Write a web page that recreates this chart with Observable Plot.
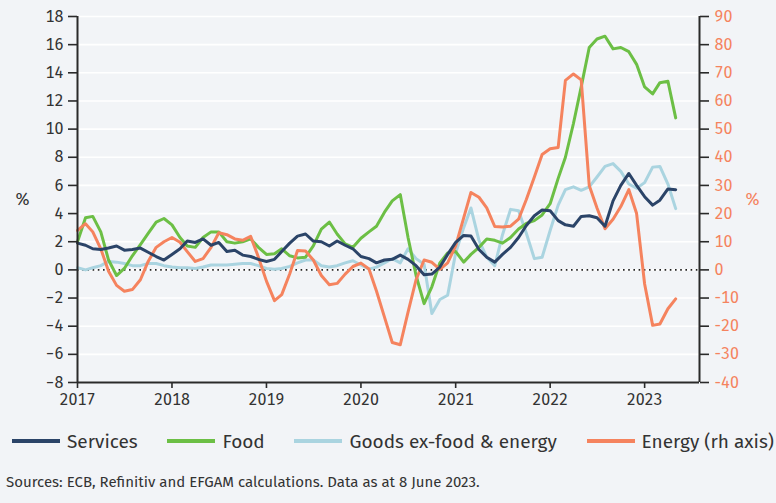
<!DOCTYPE html>
<html>
<head>
<meta charset="utf-8">
<script src="https://cdn.jsdelivr.net/npm/d3@7"></script>
<script src="https://cdn.jsdelivr.net/npm/@observablehq/plot@0.6"></script>
<style>
  html, body { margin: 0; padding: 0; background: #f2f4f7; }
  body { width: 776px; height: 503px; overflow: hidden; font-family: "Fira Sans", Roboto, "Open Sans", sans-serif; color: #333; }
  #chart svg { display: block; }
  .legend { position: absolute; left: 12px; right: 2px; top: 426px; height: 30px; display: flex; justify-content: space-between; align-items: center; font-size: 19px; color: #333; }
  .legend .item { display: flex; align-items: center; white-space: nowrap; }
  .legend .sw { width: 48px; height: 4px; margin-right: 7px; }
  .caption { position: absolute; left: 6px; top: 473px; font-size: 15px; color: #333; white-space: nowrap; }
</style>
</head>
<body>
<div id="chart"></div>
<div class="legend" id="legend"></div>
<div class="caption">Sources: ECB, Refinitiv and EFGAM calculations. Data as at 8 June 2023.</div>
<script>
// Monthly data, January 2017 to May 2023 (% year on year)
const startYear = 2017;
const services = [1.9, 1.75, 1.5, 1.45, 1.55, 1.7, 1.4, 1.45, 1.55, 1.25, 0.95, 0.7,
  1.1, 1.5, 2.05, 1.95, 2.2, 1.75, 1.95, 1.3, 1.4, 1.05, 0.95, 0.75,
  0.6, 0.75, 1.3, 1.9, 2.4, 2.55, 2.05, 2.0, 1.7, 2.05, 1.75, 1.5,
  0.95, 0.8, 0.5, 0.7, 0.75, 1.05, 0.75, 0.3, -0.35, -0.3, 0.2, 1.1,
  1.95, 2.45, 2.4, 1.45, 0.9, 0.55, 1.1, 1.6, 2.3, 3.15, 3.85, 4.25,
  4.2, 3.5, 3.2, 3.1, 3.8, 3.85, 3.7, 3.1, 4.9, 6.0, 6.85, 6.0,
  5.2, 4.6, 4.95, 5.75, 5.7];
const food = [2.0, 3.7, 3.8, 2.7, 0.7, -0.4, 0.1, 1.0, 1.8, 2.6, 3.4, 3.65,
  3.2, 2.3, 1.7, 1.6, 2.3, 2.7, 2.7, 2.0, 1.9, 2.0, 2.2, 1.6,
  1.1, 1.15, 1.5, 1.0, 0.85, 0.9, 1.7, 2.9, 3.4, 2.55, 1.85, 1.6,
  2.25, 2.7, 3.1, 4.1, 4.9, 5.35, 2.3, -0.4, -2.4, -1.2, 0.5, 1.2,
  1.3, 0.55, 1.1, 1.6, 2.2, 2.1, 1.9, 2.3, 2.9, 3.3, 3.5, 3.9,
  4.7, 6.5, 8.0, 10.4, 13.0, 15.8, 16.4, 16.6, 15.7, 15.8, 15.5, 14.6,
  13.0, 12.5, 13.3, 13.4, 10.8];
const goods = [0.15, 0.0, 0.15, 0.3, 0.6, 0.55, 0.45, 0.3, 0.3, 0.45, 0.45, 0.3,
  0.2, 0.15, 0.15, 0.1, 0.2, 0.35, 0.35, 0.35, 0.4, 0.45, 0.45, 0.3,
  0.1, 0.05, 0.1, 0.25, 0.5, 0.7, 0.7, 0.3, 0.2, 0.3, 0.5, 0.65,
  0.35, 0.05, 0.2, 0.5, 0.8, 0.5, 1.5, 0.8, 0.4, -3.1, -2.1, -1.8,
  1.2, 3.0, 4.4, 2.1, 0.9, 0.3, 2.5, 4.3, 4.2, 2.6, 0.8, 0.9,
  2.8, 4.6, 5.7, 5.9, 5.65, 5.9, 6.6, 7.35, 7.55, 7.0, 6.1, 5.8,
  6.2, 7.3, 7.35, 6.1, 4.35];
// Energy is read on the right-hand axis
const energy = [14, 16.4, 13.5, 7.5, -0.5, -5.5, -7.6, -7.0, -3.5, 3.0, 8.0, 10.0,
  11.5, 9.8, 6.5, 3.0, 4.0, 8.0, 13.2, 12.5, 11.0, 10.5, 11.9, 4.5,
  -4.0, -10.9, -8.8, -1.4, 6.9, 6.7, 3.5, -2.0, -5.3, -4.8, -1.5, 1.2,
  2.4, 0.3, -7.5, -16.8, -25.8, -26.6, -15.0, -3.5, 3.5, 2.7, 0.2, 2.5,
  8.5, 18.5, 27.5, 25.8, 22.0, 15.4, 15.2, 15.5, 18.0, 25.0, 33.0, 41.0,
  43.0, 43.5, 67.3, 69.6, 67.5, 30.0, 22.0, 14.6, 18.0, 22.5, 28.5, 20.0,
  -5.0, -19.7, -19.2, -13.8, -10.3];

const seriesNames = ["Services", "Food", "Goods ex-food & energy", "Energy (rh axis)"];
const seriesColors = ["#2b4468", "#6cbf45", "#aad4e0", "#f5835e"];
const leftTicks = [-8, -6, -4, -2, 0, 2, 4, 6, 8, 10, 12, 14, 16, 18];
const yearTicks = [2017, 2018, 2019, 2020, 2021, 2022, 2023];
const rightToLeft = 5; // right axis = 5 x left axis

const rows = services.map((s, i) => ({
  date: new Date(Date.UTC(startYear, i, 1)),
  services: s, food: food[i], goods: goods[i], energy: energy[i]
}));

const xStart = new Date(Date.UTC(2017, 0, 1));
const xEnd = new Date(Date.UTC(2023, 7, 1));
const FONT = '"Fira Sans", Roboto, "Open Sans", sans-serif';
const axisColor = "#2a2a2a";

const chart = Plot.plot({
  width: 776,
  height: 418,
  marginLeft: 77,
  marginRight: 77,
  marginTop: 16,
  marginBottom: 36,
  style: { background: "transparent", fontFamily: FONT, fontSize: "16px", color: "#333", overflow: "visible" },
  x: { type: "utc", domain: [xStart, xEnd] },
  y: { domain: [-8, 18] },
  marks: [
    Plot.gridY({ ticks: leftTicks, stroke: "#ffffff", strokeOpacity: 1, strokeWidth: 1.6 }),
    Plot.ruleY([0], { stroke: "#222", strokeWidth: 1.6, strokeDasharray: "1.6,3.6" }),
    Plot.lineY(rows, { x: "date", y: "goods", stroke: seriesColors[2], strokeWidth: 3 }),
    Plot.lineY(rows, { x: "date", y: "food", stroke: seriesColors[1], strokeWidth: 3 }),
    Plot.lineY(rows, { x: "date", y: d => d.energy / rightToLeft, stroke: seriesColors[3], strokeWidth: 3 }),
    Plot.lineY(rows, { x: "date", y: "services", stroke: seriesColors[0], strokeWidth: 3 }),
    Plot.axisY({ ticks: leftTicks, anchor: "left", tickSize: 9, tickPadding: 5, stroke: axisColor, strokeWidth: 1.6, fill: "#333", fontSize: 16, label: null }),
    Plot.axisY({ ticks: leftTicks, anchor: "right", tickSize: 9, tickPadding: 6, stroke: axisColor, strokeWidth: 1.6, fill: seriesColors[3], fontSize: 16, tickFormat: d => d * rightToLeft, label: null }),
    Plot.axisX({ ticks: yearTicks.map(y => new Date(Date.UTC(y, 0, 1))), tickFormat: "%Y", tickSize: 6, tickPadding: 5, stroke: axisColor, strokeWidth: 1.6, fill: "#333", fontSize: 16, label: null }),
    Plot.ruleX([xStart], { stroke: axisColor, strokeWidth: 2 }),
    Plot.ruleX([xEnd], { stroke: axisColor, strokeWidth: 2 }),
    Plot.ruleY([-8], { stroke: axisColor, strokeWidth: 2 }),
    Plot.text(["%"], { frameAnchor: "left", dx: -62, text: d => d, fill: "#333", fontSize: 17 }),
    Plot.text(["%"], { frameAnchor: "right", dx: 60, text: d => d, fill: seriesColors[3], fontSize: 17 })
  ]
});
document.getElementById("chart").appendChild(chart);

const legend = document.getElementById("legend");
seriesNames.forEach((name, i) => {
  const item = document.createElement("div");
  item.className = "item";
  const sw = document.createElement("span");
  sw.className = "sw";
  sw.style.background = seriesColors[i];
  const label = document.createElement("span");
  label.textContent = name;
  item.appendChild(sw);
  item.appendChild(label);
  legend.appendChild(item);
});
</script>
</body>
</html>
